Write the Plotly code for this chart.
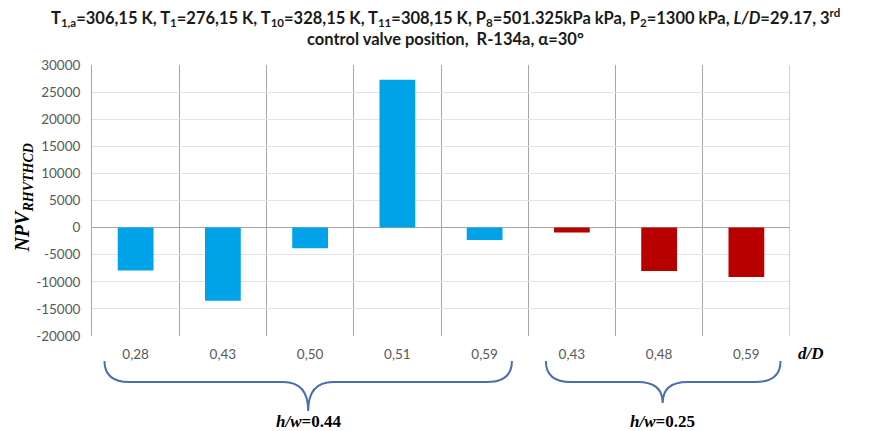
import plotly.graph_objects as go

# ---- data ----
categories = ["0,28", "0,43", "0,50", "0,51", "0,59", "0,43", "0,48", "0,59"]
npv_hw044 = [-7900, -13500, -3800, 27300, -2300]
npv_hw025 = [-900, -8000, -9100]
y_ticks = [30000, 25000, 20000, 15000, 10000, 5000, 0, -5000, -10000, -15000, -20000]
group_labels = ["0.44", "0.25"]

pos = list(range(len(categories)))
pos_a = pos[:len(npv_hw044)]
pos_b = pos[len(npv_hw044):]

W, H = 870, 431
L, R, T, B = 91.5, 79.5, 65, 95
plot_w = W - L - R
plot_h = H - T - B

def px_to_xdata(px):
    return (px - L) / plot_w * 8 - 0.5

def py_to_paper(py):
    return (H - B - py) / plot_h

fig = go.Figure()
fig.add_trace(go.Bar(x=pos_a, y=npv_hw044, marker=dict(color="#00A2E8", line=dict(width=0)),
                     width=0.41, showlegend=False))
fig.add_trace(go.Bar(x=pos_b, y=npv_hw025, marker=dict(color="#B80000", line=dict(width=0)),
                     width=0.41, showlegend=False))

tick_font = dict(family="Lato, Carlito, Open Sans, sans-serif", size=13.5, color="#595959")

fig.update_layout(
    width=W, height=H,
    margin=dict(l=L, r=R, t=T, b=B, pad=0),
    paper_bgcolor="white", plot_bgcolor="white",
    barmode="overlay",
    xaxis=dict(range=[-0.5, 7.5], tickmode="array", tickvals=pos, ticktext=categories,
               showgrid=False, zeroline=False, showline=False, ticks="",
               tickfont=tick_font, ticklabelstandoff=8,
               minor=dict(tick0=0.5, dtick=1, showgrid=True, gridcolor="#A6A6A6", gridwidth=1, ticks="")),
    yaxis=dict(range=[-20000, 30000], tickmode="array", tickvals=y_ticks,
               ticktext=[str(v) for v in y_ticks],
               showgrid=True, gridcolor="#E3E3E3", gridwidth=1,
               zeroline=True, zerolinecolor="#A6A6A6", zerolinewidth=1,
               showline=True, linecolor="#A6A6A6", linewidth=1,
               ticks="", tickfont=tick_font, ticklabelstandoff=8),
)

# right border of plot
fig.add_shape(type="line", xref="x", yref="paper", x0=7.5, x1=7.5, y0=0, y1=1,
              line=dict(color="#A6A6A6", width=1))

title_font = dict(family="Lato, Carlito, sans-serif", size=16.5, color="#1a1a1a")
# title
fig.add_annotation(
    xref="paper", yref="paper", x=(446 - L) / plot_w, y=py_to_paper(4), xanchor="center", yanchor="top",
    text=("<b>T<sub>1,a</sub>=306,15 K, T<sub>1</sub>=276,15 K, T<sub>10</sub>=328,15 K, "
          "T<sub>11</sub>=308,15 K, P<sub>8</sub>=501.325kPa kPa, P<sub>2</sub>=1300 kPa, "
          "<i>L/D</i>=29.17, 3<sup>rd</sup></b>"),
    showarrow=False, font=title_font)
fig.add_annotation(
    xref="paper", yref="paper", x=(446 - L) / plot_w, y=py_to_paper(27), xanchor="center", yanchor="top",
    text="<b>control valve position,  R-134a, α=30°</b>",
    showarrow=False, font=title_font)

serif = dict(family="Liberation Serif, Times New Roman, serif", color="black")

# y-axis title
fig.add_annotation(
    xref="paper", yref="paper", x=(22 - L) / plot_w, y=py_to_paper(198), xanchor="center", yanchor="middle",
    text="<b><i>NPV<sub>RHVTHCD</sub></i></b>", textangle=-90, showarrow=False,
    font=dict(size=20, **serif))

# d/D label
fig.add_annotation(
    xref="paper", yref="paper", x=(812 - L) / plot_w, y=py_to_paper(353), xanchor="center", yanchor="middle",
    text="<b><i>d/D</i></b>", showarrow=False, font=dict(size=17, **serif))

# braces
def brace(x0px, x1px, tippx, ytop, ymid, ytip, r=25):
    xa, xb, xt = px_to_xdata(x0px), px_to_xdata(x1px), px_to_xdata(tippx)
    rr = r / plot_w * 8
    yt, ym, yp = py_to_paper(ytop), py_to_paper(ymid), py_to_paper(ytip)
    return (f"M {xa},{yt} Q {xa},{ym} {xa+rr},{ym} L {xt-rr},{ym} Q {xt},{ym} {xt},{yp} "
            f"Q {xt},{ym} {xt+rr},{ym} L {xb-rr},{ym} Q {xb},{ym} {xb},{yt}")

brace_specs = [(104, 512, 308, 361, 382, 411), (546, 781, 663, 361, 382, 403)]
for (x0, x1, xt, yt, ym, yp), lbl in zip(brace_specs, group_labels):
    fig.add_shape(type="path", xref="x", yref="paper", path=brace(x0, x1, xt, yt, ym, yp),
                  line=dict(color="#4A6FAE", width=2))
    fig.add_annotation(
        xref="x", yref="paper", x=px_to_xdata(xt), y=py_to_paper(421), xanchor="center", yanchor="middle",
        text=f"<b><i>h/w</i>={lbl}</b>", showarrow=False, font=dict(size=17, **serif))

fig.write_html("out.html")
